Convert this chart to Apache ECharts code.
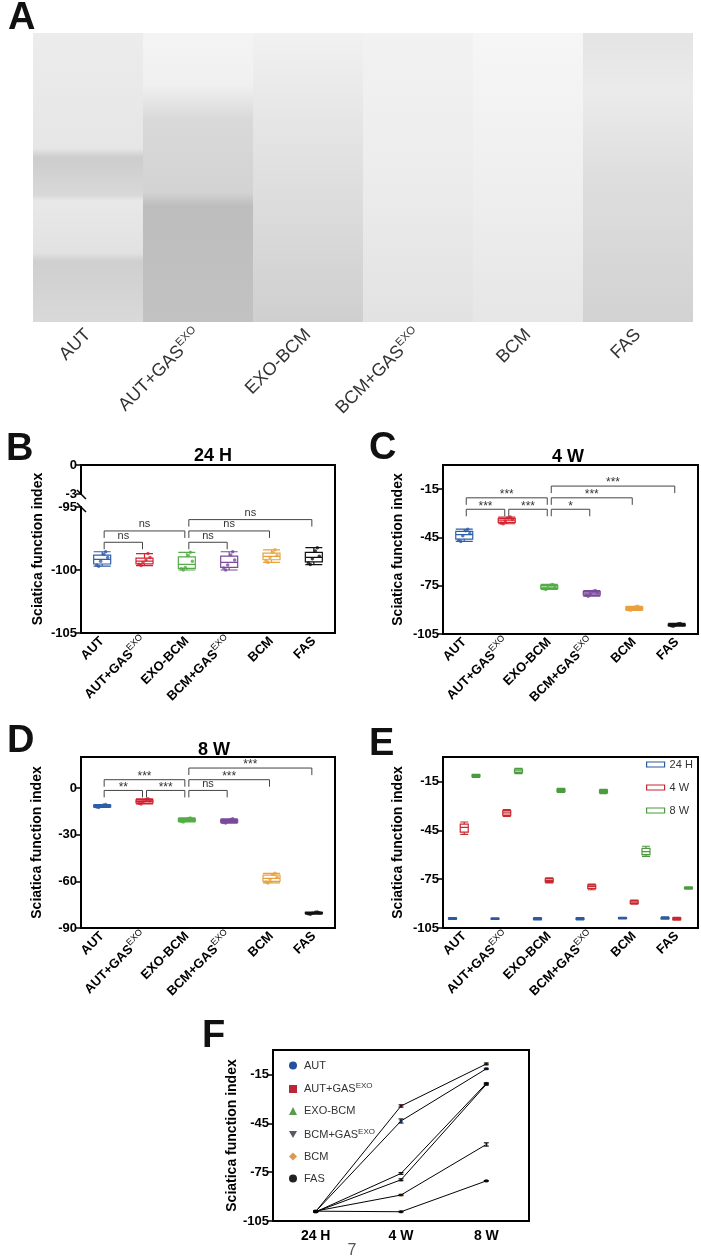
<!DOCTYPE html>
<html>
<head>
<meta charset="utf-8">
<script src="https://cdn.jsdelivr.net/npm/echarts@6.0.0/dist/echarts.min.js"></script>
<style>
  html, body { margin: 0; padding: 0; background: #fff; }
  #fig { width: 701px; height: 1259px; }
</style>
</head>
<body>
<div id="fig"></div>
<script>
const GROUPS = ['AUT', 'AUT+GAS^EXO', 'EXO-BCM', 'BCM+GAS^EXO', 'BCM', 'FAS'];
const GROUP_COLORS = ['#2f5ea8', '#d3202f', '#52ad45', '#7b4a9c', '#e9a13b', '#111111'];
const LEGEND_COLORS = ['#24509e', '#b8283a', '#5a9a4a', '#555a66', '#d89a50', '#222222'];
const TIMEPOINTS = ['24 H', '4 W', '8 W'];
const TIME_COLORS = ['#2b5a9f', '#c52a31', '#4b9b3f'];

// photo strips of panel A fill the whole height
const STRIP_FILL = [1, 1, 1, 1, 1, 1];

// sciatica function index of each animal, one row per group (order of GROUPS)
const SFI_24H = [
  [-99.3, -98.55, -99.6, -98.75, -99.7, -99.0],
  [-99.4, -98.7, -99.55, -99.2, -99.65, -99.0],
  [-99.8, -98.6, -99.9, -98.85, -100.0, -99.3],
  [-99.6, -98.55, -99.85, -98.8, -100.0, -99.2],
  [-99.0, -98.4, -99.25, -98.6, -99.4, -98.85],
  [-99.1, -98.23, -99.45, -98.5, -99.57, -98.9]
];
const SFI_4W = [
  [-44.0, -39.9, -46.8, -40.8, -47.5, -42.5],
  [-34.8, -32.3, -36.0, -32.9, -36.5, -33.8],
  [-76.2, -74.2, -76.9, -74.6, -77.3, -75.6],
  [-80.0, -78.0, -81.0, -78.4, -81.5, -79.3],
  [-89.3, -87.8, -90.0, -88.1, -90.3, -88.8],
  [-99.5, -98.4, -99.9, -98.7, -100.2, -99.2]
];
const SFI_8W = [
  [-11.7, -10.6, -12.2, -10.9, -12.5, -11.3],
  [-8.9, -6.9, -9.8, -7.3, -10.2, -8.2],
  [-20.8, -19.2, -21.4, -19.6, -21.8, -20.3],
  [-21.4, -19.8, -22.1, -20.2, -22.5, -20.8],
  [-58.8, -54.8, -60.4, -55.6, -61.0, -57.4],
  [-80.5, -79.7, -80.9, -79.9, -81.1, -80.2]
];

// significance brackets: [from group, to group, bracket height, label]
const SIG_24H = [[0, 1, -97.8, 'ns'], [0, 2, -96.9, 'ns'], [2, 3, -97.8, 'ns'], [2, 4, -96.9, 'ns'], [2, 5, -96.0, 'ns']];
const SIG_4W = [[0, 1, -27.5, '***'], [1, 2, -27.5, '***'], [0, 2, -20.4, '***'], [2, 3, -27.5, '*'], [2, 4, -20.4, '***'], [2, 5, -13.1, '***']];
const SIG_8W = [[0, 1, -1.5, '**'], [1, 2, -1.5, '***'], [0, 2, 5.4, '***'], [2, 3, -1.5, 'ns'], [2, 4, 5.4, '***'], [2, 5, 12.9, '***']];

const FONT = 'Arial, "Liberation Sans", Helvetica, sans-serif';
const chart = echarts.init(document.getElementById('fig'));

function groupLabel(name) {
  const parts = name.split('^');
  return parts.length > 1 ? '{m|' + parts[0] + '}{s|' + parts[1] + '}' : '{m|' + name + '}';
}

function quantile(sorted, p) {
  const h = (sorted.length - 1) * p;
  const lo = Math.floor(h);
  const hi = Math.min(lo + 1, sorted.length - 1);
  return sorted[lo] + (h - lo) * (sorted[hi] - sorted[lo]);
}

function boxItems(rows, colors) {
  return rows.map((vals, i) => {
    const s = vals.slice().sort((a, b) => a - b);
    const item = { value: [s[0], quantile(s, 0.25), quantile(s, 0.5), quantile(s, 0.75), s[s.length - 1]] };
    if (colors) item.itemStyle = { borderColor: colors[i] };
    return item;
  });
}

function meanSem(vals) {
  const n = vals.length;
  const m = vals.reduce((a, b) => a + b, 0) / n;
  const sd = Math.sqrt(vals.reduce((a, b) => a + (b - m) * (b - m), 0) / (n - 1));
  return [m, sd / Math.sqrt(n)];
}

// spread the dots of one group sideways
function jitter(j) {
  return (j % 2 ? 1 : -1) * (1.5 + (j % 3) * 2);
}

const RICH_BOLD = {
  m: { fontFamily: FONT, fontSize: 13, fontWeight: 'bold', color: '#000', lineHeight: 18 },
  s: { fontFamily: FONT, fontSize: 9, color: '#000', lineHeight: 10, verticalAlign: 'top' }
};
const RICH_PHOTO = {
  m: { fontFamily: FONT, fontSize: 18, color: '#333', lineHeight: 22 },
  s: { fontFamily: FONT, fontSize: 11, color: '#333', lineHeight: 12, verticalAlign: 'top' }
};
const RICH_LEGEND = {
  m: { fontFamily: FONT, fontSize: 11, color: '#333', lineHeight: 14 },
  s: { fontFamily: FONT, fontSize: 8, color: '#333', lineHeight: 8, verticalAlign: 'top' }
};

const LINE = { color: '#000', width: 2 };

function catAxis(gridIndex, extra) {
  return Object.assign({
    type: 'category', gridIndex: gridIndex, data: GROUPS,
    axisLine: { onZero: false, lineStyle: LINE },
    axisTick: { alignWithLabel: true, length: 5, lineStyle: { color: '#000', width: 1.5 } },
    axisLabel: { rotate: 45, margin: 6, interval: 0, formatter: groupLabel, rich: RICH_BOLD }
  }, extra || {});
}

function valAxis(gridIndex, min, max, interval, extra) {
  return Object.assign({
    type: 'value', gridIndex: gridIndex, min: min, max: max, interval: interval,
    splitLine: { show: false },
    axisLine: { show: true, onZero: false, lineStyle: LINE },
    axisTick: { show: true, length: 5, lineStyle: { color: '#000', width: 1.5 } },
    axisLabel: { fontFamily: FONT, fontSize: 13, fontWeight: 'bold', color: '#000', margin: 4, showMaxLabel: false },
    name: 'Sciatica function index', nameLocation: 'middle', nameGap: 37,
    nameTextStyle: { fontFamily: FONT, fontSize: 14, fontWeight: 'bold', color: '#000' }
  }, extra || {});
}

function pointsSeries(axisIndex, rows) {
  const data = [];
  rows.forEach((vals, g) => vals.forEach((v, j) => {
    data.push({ value: [g, v], symbolOffset: [jitter(j), 0], itemStyle: { color: GROUP_COLORS[g] } });
  }));
  return {
    type: 'scatter', name: 'dots ' + axisIndex, xAxisIndex: axisIndex, yAxisIndex: axisIndex,
    symbolSize: 3.5, data: data, z: 4, silent: true
  };
}

function bracketSeries(axisIndex, rows) {
  return {
    type: 'custom', name: 'sig ' + axisIndex, xAxisIndex: axisIndex, yAxisIndex: axisIndex,
    silent: true, z: 5, encode: { x: 0, y: 2 },
    data: rows.map(r => [r[0], r[1], r[2]]),
    renderItem: function (params, api) {
      const a = api.coord([api.value(0), api.value(2)]);
      const b = api.coord([api.value(1), api.value(2)]);
      const x1 = a[0] + 2, x2 = b[0] - 2, y = a[1], drop = 7;
      const label = rows[params.dataIndex][3];
      return {
        type: 'group',
        children: [
          { type: 'polyline', shape: { points: [[x1, y + drop], [x1, y], [x2, y], [x2, y + drop]] },
            style: { stroke: '#444', lineWidth: 1, fill: null } },
          { type: 'text', style: { text: label, x: (x1 + x2) / 2, y: label === 'ns' ? y - 1 : y + 3,
            align: 'center', verticalAlign: 'bottom', fontFamily: FONT,
            fontSize: label === 'ns' ? 11 : 12, fill: '#333' } }
        ]
      };
    }
  };
}

function boxSeries(axisIndex, rows, name) {
  return {
    type: 'boxplot', name: name, xAxisIndex: axisIndex, yAxisIndex: axisIndex,
    boxWidth: [17, 17], itemStyle: { color: '#fff', borderWidth: 1.2 },
    data: boxItems(rows, GROUP_COLORS), silent: true
  };
}

const stripGradients = [
  [[0, '#ececec'], [0.4, '#e6e6e6'], [0.43, '#cdcdcd'], [0.56, '#d8d8d8'], [0.58, '#e8e8e8'], [0.76, '#e2e2e2'], [0.79, '#cfcfcf'], [1, '#d9d9d9']],
  [[0, '#f4f4f4'], [0.18, '#f0f0f0'], [0.3, '#d9d9d9'], [0.55, '#d3d3d3'], [0.6, '#bdbdbd'], [1, '#c2c2c2']],
  [[0, '#f1f1f1'], [0.35, '#e4e4e4'], [1, '#cfcfcf']],
  [[0, '#f2f2f2'], [0.5, '#ececec'], [1, '#e2e2e2']],
  [[0, '#f6f6f6'], [0.5, '#efefef'], [1, '#e6e6e6']],
  [[0, '#e4e4e4'], [0.2, '#ebebeb'], [0.5, '#dedede'], [1, '#d2d2d2']]
];

const series = [
  {
    type: 'bar', name: 'photos', xAxisIndex: 0, yAxisIndex: 0, barWidth: '100%', barCategoryGap: '0%',
    silent: true,
    data: STRIP_FILL.map((v, i) => ({
      value: v,
      itemStyle: { color: { type: 'linear', x: 0, y: 0, x2: 0, y2: 1,
        colorStops: stripGradients[i].map(s => ({ offset: s[0], color: s[1] })) } }
    }))
  },
  boxSeries(3, SFI_24H, 'box 24 H'), pointsSeries(3, SFI_24H), bracketSeries(3, SIG_24H),
  boxSeries(4, SFI_4W, 'box 4 W'), pointsSeries(4, SFI_4W), bracketSeries(4, SIG_4W),
  boxSeries(5, SFI_8W, 'box 8 W'), pointsSeries(5, SFI_8W), bracketSeries(5, SIG_8W)
];

[SFI_24H, SFI_4W, SFI_8W].forEach((rows, t) => {
  series.push({
    type: 'boxplot', name: TIMEPOINTS[t], xAxisIndex: 6, yAxisIndex: 6,
    boxWidth: [7, 8], itemStyle: { color: '#fff', borderColor: TIME_COLORS[t], borderWidth: 1.2 },
    data: boxItems(rows), silent: true
  });
});

const errRows = [];
GROUPS.forEach((g, i) => {
  const stats = [SFI_24H[i], SFI_4W[i], SFI_8W[i]].map(meanSem);
  stats.forEach((s, t) => errRows.push([t, s[0], s[1]]));
  series.push({
    type: 'line', name: g, xAxisIndex: 7, yAxisIndex: 7,
    data: stats.map(s => s[0]),
    symbol: 'rect', symbolSize: 3,
    itemStyle: { color: LEGEND_COLORS[i] },
    lineStyle: { color: '#000', width: 1 }, silent: true
  });
});

series.push({
  type: 'custom', name: 'sem', xAxisIndex: 7, yAxisIndex: 7, silent: true, z: 6,
  encode: { x: 0, y: 1 }, data: errRows,
  renderItem: function (params, api) {
    const top = api.coord([api.value(0), api.value(1) + api.value(2)]);
    const bot = api.coord([api.value(0), api.value(1) - api.value(2)]);
    const w = 2.5, st = { stroke: '#000', lineWidth: 1 };
    return {
      type: 'group',
      children: [
        { type: 'line', shape: { x1: top[0], y1: top[1], x2: bot[0], y2: bot[1] }, style: st },
        { type: 'line', shape: { x1: top[0] - w, y1: top[1], x2: top[0] + w, y2: top[1] }, style: st },
        { type: 'line', shape: { x1: bot[0] - w, y1: bot[1], x2: bot[0] + w, y2: bot[1] }, style: st }
      ]
    };
  }
});

const letter = { fontFamily: FONT, fontSize: 38, fontWeight: 'bold', color: '#111' };
const heading = { fontFamily: FONT, fontSize: 18, fontWeight: 'bold', color: '#000' };
const hidden = { show: false };

const option = {
  animation: false,
  backgroundColor: '#fff',
  textStyle: { fontFamily: FONT },
  title: [
    { text: 'A', left: 3, top: -5, textStyle: letter },
    { text: 'B', left: 1, top: 426, textStyle: letter },
    { text: 'C', left: 364, top: 425, textStyle: letter },
    { text: 'D', left: 2, top: 718, textStyle: letter },
    { text: 'E', left: 364, top: 721, textStyle: letter },
    { text: 'F', left: 197, top: 1013, textStyle: letter },
    { text: '24 H', left: 208, top: 442, textAlign: 'center', textStyle: heading },
    { text: '4 W', left: 563, top: 443, textAlign: 'center', textStyle: heading },
    { text: '8 W', left: 209, top: 736, textAlign: 'center', textStyle: heading },
    { text: '7', left: 347, top: 1238, textAlign: 'center', textStyle: { fontFamily: FONT, fontSize: 16, fontWeight: 'normal', color: '#555' } }
  ],
  grid: [
    { left: 33, top: 33, width: 660, height: 289 },
    { left: 81, top: 465, width: 254, height: 168 },
    { left: 81, top: 465, width: 254, height: 29 },
    { left: 81, top: 507, width: 254, height: 126 },
    { left: 443, top: 465, width: 255, height: 169, show: true, borderColor: '#000', borderWidth: 2 },
    { left: 81, top: 757, width: 254, height: 171, show: true, borderColor: '#000', borderWidth: 2 },
    { left: 443, top: 757, width: 255, height: 171, show: true, borderColor: '#000', borderWidth: 2 },
    { left: 273, top: 1050, width: 256, height: 171, show: true, borderColor: '#000', borderWidth: 2 }
  ],
  xAxis: [
    catAxis(0, { axisLine: hidden, axisTick: hidden,
      axisLabel: { rotate: 45, margin: 10, interval: 0, formatter: groupLabel, rich: RICH_PHOTO } }),
    catAxis(1, { position: 'top', axisTick: hidden, axisLabel: hidden }),
    catAxis(2, { show: false }),
    catAxis(3),
    catAxis(4),
    catAxis(5),
    catAxis(6),
    { type: 'category', gridIndex: 7, data: TIMEPOINTS,
      axisLine: { onZero: false, lineStyle: LINE },
      axisTick: { alignWithLabel: true, length: 5, lineStyle: { color: '#000', width: 1.5 } },
      axisLabel: { fontFamily: FONT, fontSize: 14, fontWeight: 'bold', color: '#000', margin: 8 } }
  ],
  yAxis: [
    { type: 'value', gridIndex: 0, min: 0, max: 1, show: false },
    valAxis(1, 0, 1, 1, { axisLine: hidden, axisTick: hidden, axisLabel: hidden, nameGap: 36 }),
    valAxis(2, -3, 0, 3, { name: '', axisLabel: { fontFamily: FONT, fontSize: 13, fontWeight: 'bold', color: '#000', margin: 4 } }),
    valAxis(3, -105, -95, 5, { name: '', axisLabel: { fontFamily: FONT, fontSize: 13, fontWeight: 'bold', color: '#000', margin: 4 } }),
    valAxis(4, -105, 0, 30, { nameGap: 38 }),
    valAxis(5, -90, 20, 30, { nameGap: 37 }),
    valAxis(6, -105, 0, 30, { nameGap: 38 }),
    valAxis(7, -105, 0, 30, { nameGap: 34 }),
    valAxis(1, 0, 1, 1, { position: 'right', name: '', axisTick: hidden, axisLabel: hidden })
  ],
  legend: [
    {
      data: TIMEPOINTS, orient: 'vertical', left: 646, top: 759, padding: 0,
      icon: 'rect', itemWidth: 18, itemHeight: 5, itemGap: 12, selectedMode: false,
      itemStyle: { color: '#fff', borderColor: 'inherit', borderWidth: 1.2 },
      textStyle: { fontFamily: FONT, fontSize: 11, color: '#333' }
    },
    {
      data: [
        { name: GROUPS[0], icon: 'circle' },
        { name: GROUPS[1], icon: 'rect' },
        { name: GROUPS[2], icon: 'triangle' },
        { name: GROUPS[3], icon: 'path://M0,0L10,0L5,9Z' },
        { name: GROUPS[4], icon: 'diamond' },
        { name: GROUPS[5], icon: 'circle' }
      ],
      orient: 'vertical', left: 284, top: 1055, itemWidth: 8, itemHeight: 8, itemGap: 11,
      selectedMode: false, formatter: groupLabel,
      textStyle: { rich: RICH_LEGEND, padding: [0, 0, 0, 2] }
    }
  ],
  graphic: [
    { type: 'line', z: 100, shape: { x1: 77, y1: 490, x2: 86, y2: 499 }, style: { stroke: '#000', lineWidth: 1.5 } },
    { type: 'line', z: 100, shape: { x1: 77, y1: 503, x2: 86, y2: 512 }, style: { stroke: '#000', lineWidth: 1.5 } }
  ],
  series: series
};

chart.setOption(option);
</script>
</body>
</html>
